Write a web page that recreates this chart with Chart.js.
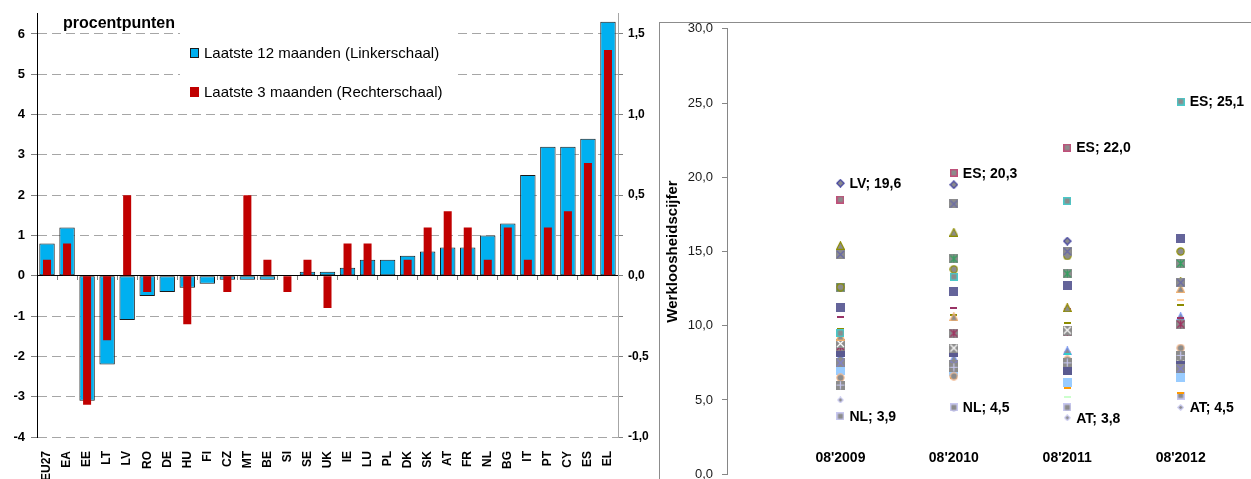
<!DOCTYPE html>
<html>
<head>
<meta charset="utf-8">
<script src="https://cdn.jsdelivr.net/npm/chart.js@4.4.1/dist/chart.umd.min.js"></script>
<style>
    html, body { margin: 0; padding: 0; background: #fff; overflow: hidden; }
    #wrap { position: relative; width: 1251px; height: 479px; }
    #links { position: absolute; left: 0; top: 0; }
    #frame { position: absolute; left: 659px; top: 22px; width: 620px; height: 480px; border-top: 1px solid #8c8c8c; border-left: 1px solid #8c8c8c; }
    #rechts { position: absolute; left: 660px; top: 12px; }
</style>
</head>
<body>
<div id="wrap">
    <canvas id="links" width="656" height="479" style="width:656px;height:479px"></canvas>
    <div id="frame"></div>
    <canvas id="rechts" width="591" height="479" style="width:591px;height:479px"></canvas>
</div>
<script>
// Linker grafiek: verandering werkloosheid (procentpunten)
const landen = ['EU27', 'EA', 'EE', 'LT', 'LV', 'RO', 'DE', 'HU', 'FI', 'CZ', 'MT', 'BE', 'SI', 'SE', 'UK',
    'IE', 'LU', 'PL', 'DK', 'SK', 'AT', 'FR', 'NL', 'BG', 'IT', 'PT', 'CY', 'ES', 'EL'];
const laatste12 = [0.8, 1.2, -3.1, -2.2, -1.1, -0.5, -0.4, -0.3, -0.2, -0.1, -0.1, -0.1, 0, 0.1, 0.1,
    0.2, 0.4, 0.4, 0.5, 0.6, 0.7, 0.7, 1.0, 1.3, 2.5, 3.2, 3.2, 3.4, 6.3];
const laatste3 = [0.1, 0.2, -0.8, -0.4, 0.5, -0.1, 0, -0.3, 0, -0.1, 0.5, 0.1, -0.1, 0.1, -0.2,
    0.2, 0.2, 0, 0.1, 0.3, 0.4, 0.3, 0.1, 0.3, 0.1, 0.3, 0.4, 0.7, 1.4];
const legendaTeksten = ['Laatste 12 maanden (Linkerschaal)', 'Laatste 3 maanden (Rechterschaal)'];

// Rechter grafiek: werkloosheidscijfer per land
const perioden = ["08'2009", "08'2010", "08'2011", "08'2012"];
const lidstaten = ['EL', 'ES', 'PT', 'LV', 'EE', 'LT', 'IE', 'SK', 'BG', 'HU', 'CY', 'FI', 'SE', 'IT',
    'DK', 'UK', 'FR', 'PL', 'SI', 'BE', 'CZ', 'RO', 'DE', 'NL', 'AT'];
const aug2009 = [9.5, 18.5, 11.2, 19.6, 14.8, 15.4, 12.6, 12.6, 9.3, 10.6, 9.8, 6.0, 8.8, 8.6,
    7.5, 8.2, 8.3, 7.9, 9.0, 6.5, 7.0, 6.9, 5.8, 3.9, 5.0];
const aug2010 = [13.3, 20.3, 12.3, 19.5, 18.2, 16.3, 13.8, 14.5, 10.6, 11.2, 10.7, 7.2, 8.5, 9.5,
    7.4, 8.2, 8.2, 7.8, 9.6, 6.6, 6.9, 7.0, 6.5, 4.5, 4.4];
const aug2011 = [18.4, 22.0, 12.7, 15.7, 15.0, 11.2, 14.7, 13.5, 11.2, 11.1, 10.2, 7.5, 9.7, 9.6,
    7.5, 7.0, 8.1, 8.3, 8.2, 7.7, 6.2, 5.2, 5.8, 4.5, 3.8];
const aug2012 = [25.1, 25.1, 15.9, 15.9, 12.9, 13.0, 15.0, 14.2, 12.5, 10.5, 11.4, 8.0, 7.9, 10.1,
    7.1, 7.5, 8.0, 10.6, 11.7, 8.5, 6.5, 6.6, 5.5, 5.3, 4.5];
const jaren = [aug2009, aug2010, aug2011, aug2012];
// [land, periode-index] van de punten met een label
const gelabeld = [['LV', 0], ['NL', 0], ['ES', 1], ['NL', 1], ['ES', 2], ['AT', 2], ['ES', 3], ['AT', 3]];

// marker per land (zelfde volgorde als lidstaten)
const markerStijl = [
    ['vierkant', '#4bc8c8'], ['vierkant', '#c0507a'], ['blok', '#64649a'], ['ruit', '#3f3fa0'],
    ['kruis', '#6a6aa8'], ['driehoek', '#8c8c00'], ['cirkel', '#8c8c00'], ['ster', '#33a060'],
    ['driehoek', '#f0b070'], ['streep', '#993366'], ['streep', '#8c8c00'], ['plus', '#c8c8f0'],
    ['kruis', '#ffffff'], ['ster', '#a03060'], ['kruis', '#8080d0'], ['blok', '#5a5a90'],
    ['streep', '#33cccc'], ['driehoek', '#6f8fef'], ['streep', '#ffcc99'], ['cirkel', '#f0b890'],
    ['blok', '#99ccff'], ['streep', '#ccffcc'], ['streep', '#ff9900'], ['vierkant', '#c8c8f0'],
    ['ruitklein', '#c8c8f0']
];

const FONT = 'Arial, "Liberation Sans", sans-serif';
const komma = (v, d) => v.toFixed(d).replace('.', ',');

function maakMarker(soort, kleur) {
    const c = document.createElement('canvas');
    const g = c.getContext('2d');
    const grijs = '#8c8c8c';
    const s = soort === 'streep' ? [7, 2] : soort === 'ruitklein' ? [7, 7] : soort === 'vierkant' ? [8, 8] : [9, 9];
    c.width = s[0]; c.height = s[1];
    g.lineWidth = 1.2;
    g.strokeStyle = kleur;
    if (soort === 'streep') {
        g.fillStyle = kleur; g.fillRect(0, 0, 7, 2);
    } else if (soort === 'blok') {
        g.fillStyle = kleur; g.fillRect(0, 0, 9, 9);
    } else if (soort === 'vierkant') {
        g.fillStyle = grijs; g.fillRect(0, 0, 8, 8);
        g.lineWidth = 1.5; g.strokeRect(0.75, 0.75, 6.5, 6.5);
    } else if (soort === 'ruit' || soort === 'ruitklein') {
        const m = c.width / 2, r = m - 0.8;
        g.beginPath(); g.moveTo(m, m - r); g.lineTo(m + r, m); g.lineTo(m, m + r); g.lineTo(m - r, m); g.closePath();
        g.fillStyle = grijs; g.fill(); g.stroke();
    } else if (soort === 'driehoek') {
        g.beginPath(); g.moveTo(4.5, 0.8); g.lineTo(8.3, 8.3); g.lineTo(0.7, 8.3); g.closePath();
        g.fillStyle = grijs; g.fill(); g.stroke();
    } else if (soort === 'cirkel') {
        g.beginPath(); g.arc(4.5, 4.5, 3.6, 0, Math.PI * 2);
        g.fillStyle = grijs; g.fill(); g.stroke();
    } else {
        g.fillStyle = grijs; g.fillRect(0, 0, 9, 9);
        g.beginPath();
        if (soort === 'kruis' || soort === 'ster') {
            g.moveTo(1, 1); g.lineTo(8, 8); g.moveTo(8, 1); g.lineTo(1, 8);
        }
        if (soort === 'plus' || soort === 'ster') {
            g.moveTo(4.5, 0.5); g.lineTo(4.5, 8.5);
        }
        if (soort === 'plus') {
            g.moveTo(0.5, 4.5); g.lineTo(8.5, 4.5);
        }
        g.stroke();
    }
    return c;
}

// titel en legenda binnen het plotgebied
const linksExtra = {
    id: 'linksExtra',
    afterDraw(chart) {
        const ctx = chart.ctx, a = chart.chartArea;
        ctx.save();
        ctx.font = 'bold 16px ' + FONT;
        ctx.fillStyle = '#000';
        ctx.textBaseline = 'alphabetic';
        ctx.fillText('procentpunten', a.left + 26, a.top + 14);

        const bx = 180, by = 26;
        ctx.fillStyle = '#fff';
        ctx.fillRect(bx, by, 273, 80);
        const kleuren = ['#00b0f0', '#c00000'];
        ctx.font = '15px ' + FONT;
        ctx.textBaseline = 'middle';
        legendaTeksten.forEach((t, i) => {
            const y = by + 27 + i * 39;
            ctx.fillStyle = kleuren[i];
            ctx.fillRect(bx + 10, y - 5, 9, 10);
            if (i === 0) {
                ctx.strokeStyle = '#1a1a1a';
                ctx.lineWidth = 1;
                ctx.strokeRect(bx + 10.5, y - 4.5, 8, 9);
            }
            ctx.fillStyle = '#000';
            ctx.fillText(t, bx + 24, y + 1);
        });
        ctx.restore();
    }
};

new Chart(document.getElementById('links'), {
    type: 'bar',
    data: {
        labels: landen,
        datasets: [
            {
                label: legendaTeksten[0],
                data: laatste12,
                yAxisID: 'y',
                backgroundColor: '#00b0f0',
                borderColor: '#1a1a1a',
                borderWidth: 1,
                borderSkipped: false,
                barPercentage: 0.77,
                categoryPercentage: 1,
                grouped: false,
                order: 2
            },
            {
                label: legendaTeksten[1],
                data: laatste3,
                yAxisID: 'y1',
                backgroundColor: '#c00000',
                borderWidth: 0,
                barPercentage: 0.4,
                categoryPercentage: 1,
                grouped: false,
                order: 1
            }
        ]
    },
    options: {
        responsive: false,
        animation: false,
        layout: { padding: { top: 13, left: 0, right: 0, bottom: 0 } },
        plugins: { legend: { display: false }, tooltip: { enabled: false } },
        scales: {
            x: {
                position: 'bottom',
                grid: { display: false },
                border: { display: false },
                ticks: {
                    color: '#000',
                    font: { family: FONT, size: 12, weight: 'bold' },
                    minRotation: 90,
                    maxRotation: 90,
                    autoSkip: false,
                    padding: 6
                },
                afterFit(s) { s.height = 42; }
            },
            x0: {
                type: 'category',
                labels: landen,
                position: { y: 0 },
                offset: true,
                grid: { offset: true, drawOnChartArea: false, tickLength: 4, tickColor: '#808080' },
                border: { color: '#000', width: 1 },
                ticks: { display: false },
                afterFit(s) { s.height = 0; }
            },
            y: {
                position: 'left',
                min: -4,
                max: 6.5,
                ticks: {
                    stepSize: 1,
                    color: '#000',
                    padding: 6,
                    font: { family: FONT, size: 13, weight: 'bold' }
                },
                afterBuildTicks(s) { s.ticks = s.ticks.filter(t => Number.isInteger(t.value)); },
                grid: {
                    color: c => c.tick && c.tick.value === 0 ? '#000' : '#a6a6a6',
                    tickColor: '#808080',
                    tickLength: 6
                },
                border: {
                    color: '#000',
                    dash: c => (c.type === 'tick' && c.tick.value !== 0) ? [9, 5] : []
                },
                afterFit(s) { s.width = 37; }
            },
            y1: {
                position: 'right',
                min: -1,
                max: 1.625,
                ticks: {
                    stepSize: 0.25,
                    color: '#000',
                    padding: 5,
                    font: { family: FONT, size: 12, weight: 'bold' },
                    callback: v => Math.abs(v * 2 - Math.round(v * 2)) < 1e-6 ? komma(v, 1) : ''
                },
                afterBuildTicks(s) { s.ticks = s.ticks.filter(t => t.value <= 1.5 + 1e-6); },
                grid: { drawOnChartArea: false, tickLength: 5, tickColor: '#808080' },
                border: { color: '#a6a6a6' },
                afterFit(s) { s.width = 38; }
            }
        }
    },
    plugins: [linksExtra]
});

// labels bij punten en perioden onderaan
const rechtsLabels = {
    id: 'rechtsLabels',
    afterDatasetsDraw(chart) {
        const ctx = chart.ctx;
        const xs = chart.scales.x, ys = chart.scales.y;
        ctx.save();
        ctx.font = 'bold 14px ' + FONT;
        ctx.fillStyle = '#000';
        ctx.textBaseline = 'middle';
        ctx.textAlign = 'left';
        gelabeld.forEach(([land, j]) => {
            const i = lidstaten.indexOf(land);
            const p = chart.getDatasetMeta(i).data[j];
            ctx.fillText(land + '; ' + komma(jaren[j][i], 1), p.x + 9, p.y + 1);
        });
        ctx.textAlign = 'center';
        perioden.forEach((t, j) => {
            ctx.fillText(t, xs.getPixelForValue(j + 1), ys.getPixelForValue(1.1));
        });
        ctx.restore();
    }
};

new Chart(document.getElementById('rechts'), {
    type: 'scatter',
    data: {
        datasets: lidstaten.map((land, i) => ({
            label: land,
            data: jaren.map((reeks, j) => ({ x: j + 1, y: reeks[i] })),
            pointStyle: maakMarker(markerStijl[i][0], markerStijl[i][1]),
            pointRadius: 4
        }))
    },
    options: {
        responsive: false,
        animation: false,
        layout: { padding: 0 },
        plugins: { legend: { display: false }, tooltip: { enabled: false } },
        scales: {
            x: { type: 'linear', min: 0, max: 4.576, display: false },
            y: {
                min: 0,
                max: 30,
                ticks: {
                    stepSize: 5,
                    color: '#1a1a1a',
                    padding: 9,
                    font: { family: FONT, size: 13 },
                    callback: v => komma(v, 1)
                },
                grid: { drawOnChartArea: false, tickLength: 5, tickColor: '#868686' },
                border: { color: '#868686' },
                title: {
                    display: true,
                    text: 'Werkloosheidscijfer',
                    color: '#000',
                    font: { family: FONT, size: 15, weight: 'bold' }
                },
                afterFit(s) { s.width = 67; }
            }
        }
    },
    plugins: [rechtsLabels]
});
</script>
</body>
</html>
